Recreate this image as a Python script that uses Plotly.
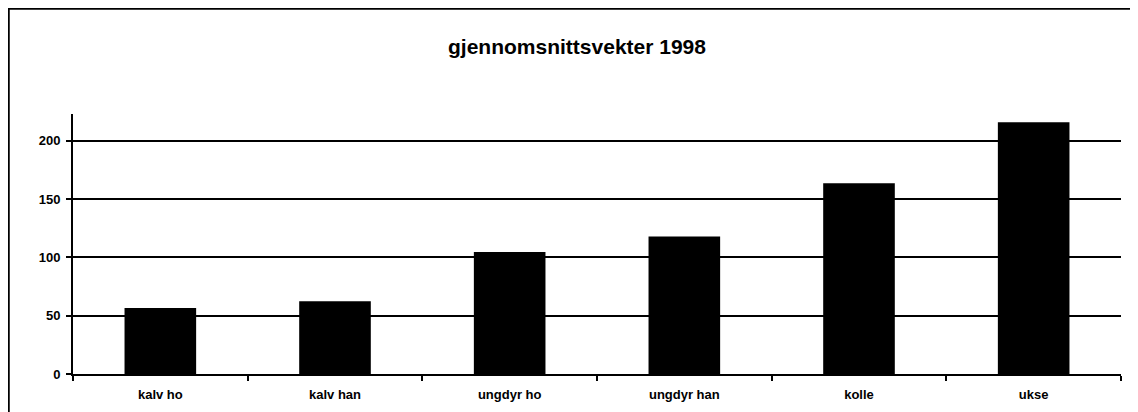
import plotly.graph_objects as go

categories = ["kalv ho", "kalv han", "ungdyr ho", "ungdyr han", "kolle", "ukse"]
values = [56.6, 62.3, 104.6, 118, 163.7, 216]
title_text = "gjennomsnittsvekter 1998"
y_ticks = [0, 50, 100, 150, 200]

# page body has an 8px margin, so figure coords = screen coords - 8
W, H = 1138, 412
L, R, T, B = 65, 25, 106, 46
pw, ph = W - L - R, H - T - B

def px(x):
    return (x - L) / pw

def py(y):
    return (H - B - y) / ph

FONT = "Liberation Sans, Arial"

fig = go.Figure(go.Bar(x=categories, y=values, marker=dict(color="black", line=dict(width=0)), width=0.41))

fig.update_layout(
    width=W, height=H,
    margin=dict(l=L, r=R, t=T, b=B),
    paper_bgcolor="white", plot_bgcolor="white",
    font=dict(family=FONT, size=13, color="black"),
    title=dict(text="<b>" + title_text + "</b>", x=0.5, xanchor="center", xref="container",
               y=1 - 39 / H, yanchor="middle", font=dict(size=21, family=FONT)),
    showlegend=False,
    bargap=0.59,
)
fig.update_xaxes(
    showline=True, linecolor="black", linewidth=2,
    ticks="outside", tickson="boundaries", ticklen=5, tickwidth=2, tickcolor="black",
    tickfont=dict(size=13, family=FONT, color="black"),
    tickprefix="<b>", ticksuffix="</b>",
    showgrid=False, ticklabelstandoff=7,
)
fig.update_yaxes(
    range=[0, 223], tickvals=y_ticks, ticktext=["<b>%d</b>" % v for v in y_ticks],
    showline=True, linecolor="black", linewidth=2,
    ticks="outside", ticklen=5, tickwidth=2, tickcolor="black",
    showgrid=True, gridcolor="black", gridwidth=2, zeroline=False,
    tickfont=dict(size=13, family=FONT, color="black"),
    ticklabelstandoff=3,
)
border = dict(color="black", width=2.5)
fig.add_shape(type="line", xref="paper", yref="paper",
              x0=px(0), x1=px(W + 20), y0=py(0.5), y1=py(0.5), line=border, layer="above")
fig.add_shape(type="line", xref="paper", yref="paper",
              x0=px(0.5), x1=px(0.5), y0=py(0), y1=py(H + 20), line=border, layer="above")

fig.write_html("out.html")
